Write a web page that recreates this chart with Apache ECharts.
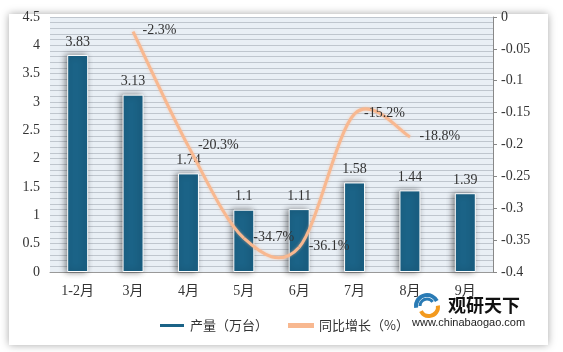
<!DOCTYPE html>
<html lang="zh">

<head>
    <meta charset="UTF-8">
    <title>产量与同比增长</title>
    <script src="https://cdn.jsdelivr.net/npm/echarts@6/dist/echarts.min.js"></script>
    <style>
        html, body { margin: 0; padding: 0; background: #fff; }
        #chart { width: 563px; height: 352px; }
    </style>
</head>

<body>
    <div id="chart"></div>
    <script>
        // 数据
        const months = ['1-2月', '3月', '4月', '5月', '6月', '7月', '8月', '9月'];
        const output = [3.83, 3.13, 1.74, 1.1, 1.11, 1.58, 1.44, 1.39];
        const growth = [null, -0.023, -0.203, -0.347, -0.361, -0.152, -0.188, null];

        const serif = 'Liberation Serif, Noto Sans CJK SC';
        const sans = 'Noto Sans CJK SC';
        const lineColor = '#f8b890';

        const firstIdx = growth.findIndex(v => v !== null);

        // excel 风格的平滑曲线 (catmull-rom -> bezier)
        function renderCurve(params, api) {
            if (params.dataIndex !== firstIdx) return;
            const pts = [];
            growth.forEach((v, i) => {
                if (v !== null) pts.push(api.coord([i, v]));
            });
            const children = [];
            for (let i = 0; i < pts.length - 1; i++) {
                const p0 = pts[i - 1] || pts[i];
                const p1 = pts[i];
                const p2 = pts[i + 1];
                const p3 = pts[i + 2] || p2;
                children.push({
                    type: 'bezierCurve',
                    shape: {
                        x1: p1[0], y1: p1[1],
                        cpx1: p1[0] + (p2[0] - p0[0]) / 6,
                        cpy1: p1[1] + (p2[1] - p0[1]) / 6,
                        cpx2: p2[0] - (p3[0] - p1[0]) / 6,
                        cpy2: p2[1] - (p3[1] - p1[1]) / 6,
                        x2: p2[0], y2: p2[1]
                    },
                    style: {
                        stroke: lineColor,
                        lineWidth: 3,
                        fill: null,
                        shadowColor: 'rgba(248,184,144,0.6)',
                        shadowBlur: 3
                    }
                });
            }
            return { type: 'group', children: children };
        }

        const chart = echarts.init(document.getElementById('chart'));
        chart.setOption({
            animation: false,
            graphic: [
                {
                    type: 'rect',
                    z: -10,
                    shape: { x: 9, y: 14, width: 539, height: 331 },
                    style: {
                        fill: '#fff',
                        shadowBlur: 8,
                        shadowColor: 'rgba(0,0,0,0.35)'
                    }
                },
                // 观研天下 logo
                {
                    type: 'arc',
                    shape: { cx: 427, cy: 306, r: 11, startAngle: Math.PI * 0.95, endAngle: Math.PI * 1.85 },
                    style: { stroke: '#2a7bb5', lineWidth: 4, fill: null }
                },
                {
                    type: 'arc',
                    shape: { cx: 427, cy: 306, r: 7, startAngle: Math.PI * 1.0, endAngle: Math.PI * 1.8 },
                    style: { stroke: '#2a7bb5', lineWidth: 3, fill: null }
                },
                {
                    type: 'arc',
                    shape: { cx: 429, cy: 307, r: 9, startAngle: -Math.PI * 0.05, endAngle: Math.PI * 0.85 },
                    style: { stroke: '#f39a1e', lineWidth: 4, fill: null }
                },
                {
                    type: 'text',
                    left: 448,
                    top: 296,
                    style: { text: '观研天下', fontSize: 18, fontWeight: 'bold', fill: '#111', fontFamily: sans }
                },
                {
                    type: 'text',
                    left: 412,
                    top: 317,
                    style: { text: 'www.chinabaogao.com', fontSize: 11, fill: '#222', fontFamily: 'Liberation Sans' }
                }
            ],
            grid: {
                left: 50,
                right: 70,
                top: 17,
                bottom: 80,
                show: true,
                backgroundColor: '#e9eff5',
                borderWidth: 0
            },
            legend: {
                left: 153,
                top: 314,
                itemGap: 20,
                textStyle: { fontFamily: sans, fontSize: 13, color: '#333' },
                data: [
                    { name: '产量（万台）', icon: 'rect', itemStyle: { color: '#1b6387' } },
                    { name: '同比增长（%）', icon: 'rect', itemStyle: { color: lineColor } }
                ],
                itemWidth: 26,
                itemHeight: 5
            },
            xAxis: {
                type: 'category',
                data: months,
                axisLine: { lineStyle: { color: '#999' } },
                axisTick: { show: false },
                axisLabel: { fontFamily: serif, fontSize: 14, color: '#333', margin: 12 }
            },
            yAxis: [
                {
                    type: 'value',
                    min: 0,
                    max: 4.5,
                    interval: 0.5,
                    axisLine: { show: false },
                    axisTick: { show: false },
                    axisLabel: { fontFamily: serif, fontSize: 14, color: '#333', margin: 10 },
                    splitLine: { lineStyle: { color: '#bfc6ce' } },
                    minorTick: { show: false, splitNumber: 5 },
                    minorSplitLine: { show: true, lineStyle: { color: '#bfc6ce' } }
                },
                {
                    type: 'value',
                    min: -0.4,
                    max: 0,
                    interval: 0.05,
                    axisLine: { show: true, lineStyle: { color: '#888' } },
                    axisTick: { show: true, inside: false, length: 4, lineStyle: { color: '#888' } },
                    axisLabel: { fontFamily: serif, fontSize: 14, color: '#333', margin: 8 },
                    splitLine: { show: false }
                }
            ],
            series: [
                {
                    name: '产量（万台）',
                    type: 'bar',
                    data: output,
                    barWidth: 21,
                    itemStyle: {
                        color: '#1b6387',
                        borderColor: '#fff',
                        borderWidth: 1,
                        shadowColor: 'rgba(0,0,0,0.45)',
                        shadowBlur: 6,
                        shadowOffsetX: -2
                    },
                    label: {
                        show: true,
                        position: 'top',
                        distance: 6,
                        fontFamily: serif,
                        fontSize: 14,
                        color: '#333'
                    }
                },
                {
                    name: '同比增长（%）',
                    type: 'custom',
                    yAxisIndex: 1,
                    z: 3,
                    data: growth.map((v, i) => [i, v]),
                    encode: { x: 0, y: 1 },
                    renderItem: renderCurve
                },
                {
                    // 只用来放数据标签
                    name: '同比增长（%）',
                    type: 'line',
                    yAxisIndex: 1,
                    z: 4,
                    data: growth,
                    symbol: 'circle',
                    symbolSize: 1,
                    itemStyle: { color: 'rgba(0,0,0,0)' },
                    lineStyle: { opacity: 0 },
                    label: {
                        show: true,
                        position: 'right',
                        distance: 9,
                        offset: [0, -1],
                        fontFamily: serif,
                        fontSize: 14,
                        color: '#333',
                        formatter: function (p) {
                            return (p.value * 100).toFixed(1) + '%';
                        }
                    }
                }
            ]
        });
    </script>
</body>

</html>
